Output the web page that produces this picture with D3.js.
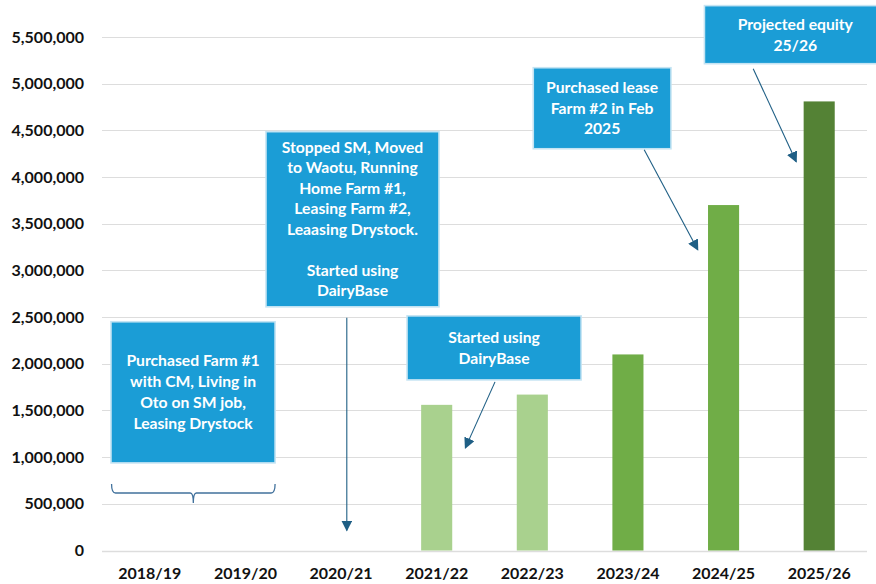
<!DOCTYPE html>
<html>
<head>
<meta charset="utf-8">
<script src="https://cdn.jsdelivr.net/npm/d3@7"></script>
<style>
  body { margin: 0; background: #fff; }
  svg text { font-family: Lato, "Open Sans", sans-serif; font-weight: 700; }
</style>
</head>
<body>
<div id="viz"></div>
<script>
// data
var years = ["2018/19", "2019/20", "2020/21", "2021/22", "2022/23", "2023/24", "2024/25", "2025/26"];
var equity = [null, null, null, 1560000, 1670000, 2100000, 3700000, 4810000];
var yTicks = d3.range(0, 5500001, 500000);

var boxText1 = ["Purchased Farm #1", "with CM, Living in", "Oto on SM job,", "Leasing Drystock"];
var boxText2 = ["Stopped SM, Moved", "to Waotu, Running", "Home Farm #1,", "Leasing Farm #2,", "Leaasing Drystock.", "", "Started using", "DairyBase"];
var boxText3 = ["Started using", "DairyBase"];
var boxText4 = ["Purchased lease", "Farm #2 in Feb", "2025"];
var boxText5 = ["Projected equity", "25/26"];

// set the dimensions and margins of the graph
var W = 876, H = 584;
var margin = {top: 37, right: 9, bottom: 33.5, left: 102},
    width = W - margin.left - margin.right,
    height = H - margin.top - margin.bottom;

var svg = d3.select("#viz")
  .append("svg")
  .attr("width", W)
  .attr("height", H);

var g = svg.append("g")
  .attr("transform", "translate(" + margin.left + "," + margin.top + ")");

var x = d3.scaleBand()
  .domain(years)
  .range([0, width])
  .paddingInner(0.675)
  .paddingOuter(0.3375);

// fractional category position, used to place the callouts
var xi = d3.scaleLinear().domain([0, years.length]).range([0, width]);

var y = d3.scaleLinear()
  .domain([0, 5500000])
  .range([height, 0]);

var barColor = d3.scaleOrdinal()
  .domain(years)
  .range(["#a9d18e", "#a9d18e", "#a9d18e", "#a9d18e", "#a9d18e", "#70ad47", "#70ad47", "#548235"]);

// grid lines
g.append("g")
  .selectAll("line")
  .data(yTicks)
  .join("line")
  .attr("x1", 0).attr("x2", width)
  .attr("y1", function(d) { return Math.round(y(d)) + 0.5; })
  .attr("y2", function(d) { return Math.round(y(d)) + 0.5; })
  .attr("stroke", "#dddddd")
  .attr("stroke-width", function(d) { return d === 0 ? 1.5 : 1.2; });

// Y axis
var yAxis = g.append("g")
  .call(d3.axisLeft(y).tickValues(yTicks).tickSize(0).tickPadding(18)
    .tickFormat(d3.format(",")));
yAxis.select(".domain").remove();
yAxis.selectAll("text").attr("font-size", 16).attr("fill", "#111");

// X axis
var xAxis = g.append("g")
  .attr("transform", "translate(0," + height + ")")
  .call(d3.axisBottom(x).tickSize(0).tickPadding(17));
xAxis.select(".domain").remove();
xAxis.selectAll("text").attr("font-size", 16).attr("fill", "#111");

// bars
g.append("g")
  .selectAll("rect")
  .data(years.map(function(d, i) { return {year: d, value: equity[i]}; })
    .filter(function(d) { return d.value !== null; }))
  .join("rect")
  .attr("x", function(d) { return x(d.year); })
  .attr("width", x.bandwidth())
  .attr("y", function(d) { return y(d.value); })
  .attr("height", function(d) { return height - y(d.value); })
  .attr("fill", function(d) { return barColor(d.year); });

// arrow marker
svg.append("defs").append("marker")
  .attr("id", "head")
  .attr("viewBox", "0 0 10 10")
  .attr("refX", 9).attr("refY", 5)
  .attr("markerWidth", 11).attr("markerHeight", 11)
  .attr("markerUnits", "userSpaceOnUse")
  .attr("orient", "auto")
  .append("path")
  .attr("d", "M0,0 L10,5 L0,10 Z")
  .attr("fill", "#1f5f85");

var ann = g.append("g");

function callout(x0, x1, v0, v1, lines, lh) {
  var bx = xi(x0), bw = xi(x1) - xi(x0);
  var by = y(v0), bh = y(v1) - y(v0);
  ann.append("rect")
    .attr("x", bx).attr("y", by)
    .attr("width", bw).attr("height", bh)
    .attr("fill", "#1b9dd6")
    .attr("stroke", "#c5e4f3")
    .attr("stroke-width", 1.6);
  var cy = by + bh / 2 - (lines.length - 1) * lh / 2;
  ann.append("text")
    .attr("text-anchor", "middle")
    .attr("fill", "#fff")
    .attr("font-size", 15.7)
    .selectAll("tspan")
    .data(lines)
    .join("tspan")
    .attr("x", bx + bw / 2)
    .attr("y", function(d, i) { return cy + i * lh; })
    .attr("dy", "0.35em")
    .text(function(d) { return d; });
}

function arrow(x0, v0, x1, v1) {
  ann.append("line")
    .attr("x1", xi(x0)).attr("y1", y(v0))
    .attr("x2", xi(x1)).attr("y2", y(v1))
    .attr("stroke", "#1f5f85")
    .attr("stroke-width", 1.1)
    .attr("marker-end", "url(#head)");
}

callout(0.094, 1.81, 2450000, 938000, boxText1, 21);
callout(1.715, 3.524, 4486000, 2610000, boxText2, 20.5);
callout(3.19, 5.01, 2513000, 1827000, boxText3, 21);
callout(4.51, 5.95, 5171000, 4303000, boxText4, 20.5);
callout(6.30, 8.2, 5836000, 5214000, boxText5, 21);

arrow(2.56, 2492000, 2.56, 215000);
arrow(4.11, 1806000, 3.80, 1099000);
arrow(5.67, 4292000, 6.23, 3221000);
arrow(6.81, 5160000, 7.26, 4164000);

// brace under the first callout
var bL = xi(0.1), bR = xi(1.81), bM = (bL + bR) / 2;
var yT = y(713000), yB = y(616000), yM = y(509000);
ann.append("path")
  .attr("d", "M" + bL + "," + yT + " Q" + bL + "," + yB + " " + (bL + 4) + "," + yB +
    " L" + (bM - 3) + "," + yB + " Q" + bM + "," + yB + " " + bM + "," + yM +
    " Q" + bM + "," + yB + " " + (bM + 3) + "," + yB +
    " L" + (bR - 4) + "," + yB + " Q" + bR + "," + yB + " " + bR + "," + yT)
  .attr("fill", "none")
  .attr("stroke", "#41719c")
  .attr("stroke-width", 1.3);
</script>
</body>
</html>
